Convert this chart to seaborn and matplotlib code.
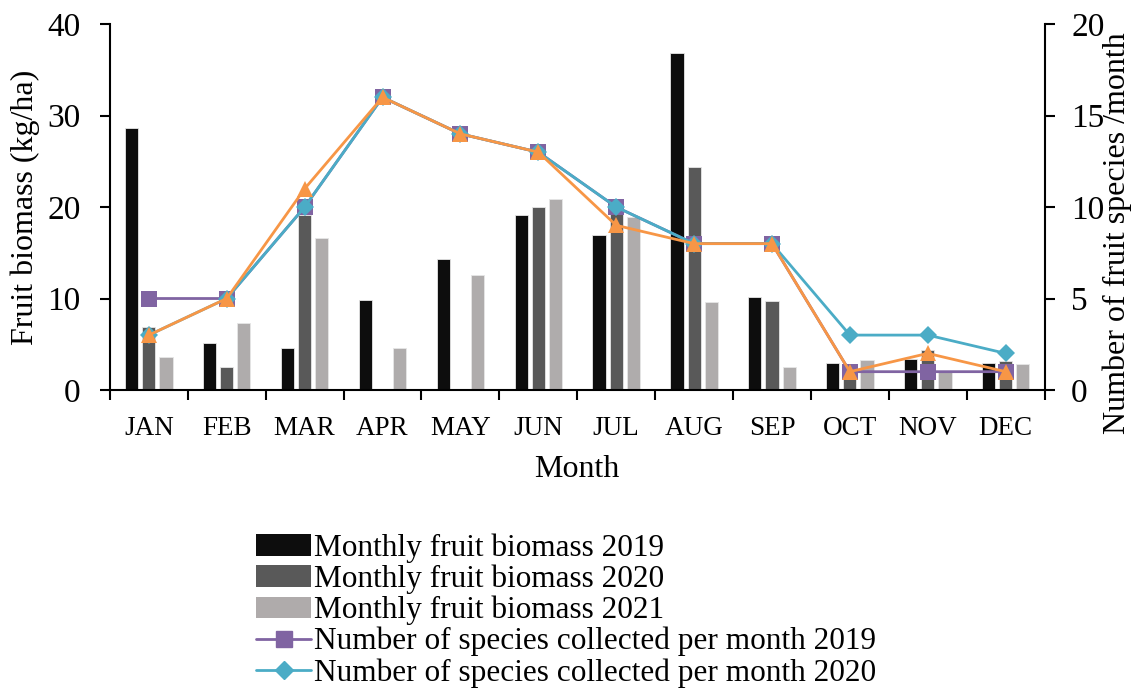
import numpy as np
import pandas as pd
import matplotlib
matplotlib.use("Agg")
import matplotlib.pyplot as plt
from matplotlib.patches import Patch
from matplotlib.lines import Line2D
import seaborn as sns

sns.set_theme(style="white")
plt.rcParams['font.family'] = ['Liberation Serif', 'DejaVu Serif']
plt.rcParams['text.color'] = 'black'
plt.rcParams['axes.labelcolor'] = 'black'
plt.rcParams['xtick.color'] = 'black'
plt.rcParams['ytick.color'] = 'black'

months = ["JAN", "FEB", "MAR", "APR", "MAY", "JUN", "JUL", "AUG", "SEP", "OCT", "NOV", "DEC"]

biomass_2019 = [28.6, 5.1, 4.6, 9.8, 14.3, 19.1, 16.9, 36.8, 10.2, 2.9, 3.4, 2.9]
biomass_2020 = [6.9, 2.5, 19.1, 0.0, 0.0, 20.0, 19.8, 24.4, 9.7, 2.2, 4.4, 3.2]
biomass_2021 = [3.6, 7.3, 16.6, 4.6, 12.6, 20.9, 18.9, 9.6, 2.5, 3.3, 2.0, 2.8]

species_2019 = [5, 5, 10, 16, 14, 13, 10, 8, 8, 1, 1, 1]
species_2020 = [3, 5, 10, 16, 14, 13, 10, 8, 8, 3, 3, 2]
species_2021 = [3, 5, 11, 16, 14, 13, 9, 8, 8, 1, 2, 1]

bar_labels = ["Monthly fruit biomass 2019", "Monthly fruit biomass 2020", "Monthly fruit biomass 2021"]
bar_colors = ["#0d0d0d", "#595959", "#afabab"]
line_colors = ["#8064a2", "#4bacc6", "#f79646"]

df = pd.DataFrame({
    "month": months * 3,
    "biomass": biomass_2019 + biomass_2020 + biomass_2021,
    "series": [bar_labels[0]] * 12 + [bar_labels[1]] * 12 + [bar_labels[2]] * 12,
})

fig = plt.figure(figsize=(11.33, 6.89), dpi=100)
ax = fig.add_axes([0.097, 0.434, 0.825, 0.531])

sns.barplot(data=df, x="month", y="biomass", hue="series", order=months,
            hue_order=bar_labels, palette=bar_colors, width=0.66, gap=0.23,
            edgecolor="#e6e6e6", linewidth=0.6, legend=False, ax=ax)

ax.set_xlim(-0.5, 11.5)
ax.set_ylim(0, 40)
ax.set_yticks([0, 10, 20, 30, 40])
ax.tick_params(axis="y", labelsize=24, direction="out", length=7, width=1.5, left=True, pad=14)
ax.set_xticks(np.arange(-0.5, 12, 1))
ax.set_xticklabels([])
ax.set_xticks(np.arange(12), minor=True)
ax.set_xticklabels(months, minor=True, fontsize=19.5)
ax.tick_params(axis="x", which="major", direction="out", length=7, width=1.5, bottom=True)
ax.tick_params(axis="x", which="minor", length=0, pad=19)
ax.set_xlabel("Month", fontsize=23, labelpad=10)
ax.set_ylabel("Fruit biomass (kg/ha)", fontsize=23)
ax.yaxis.set_label_coords(-0.075, 0.5)
for s in ["left", "bottom"]:
    ax.spines[s].set_color("black")
    ax.spines[s].set_linewidth(1.5)
ax.spines["top"].set_visible(False)
ax.spines["right"].set_visible(False)

ax2 = ax.twinx()
pos = np.arange(12)
sns.lineplot(x=pos, y=species_2019, color=line_colors[0], marker="s", markersize=11,
             markeredgewidth=0, linewidth=2, ax=ax2)
sns.lineplot(x=pos, y=species_2020, color=line_colors[1], marker="D", markersize=9,
             markeredgewidth=0, linewidth=2, ax=ax2)
sns.lineplot(x=pos, y=species_2021, color=line_colors[2], marker="^", markersize=12,
             markeredgewidth=0, linewidth=2, ax=ax2)
ax2.set_ylim(0, 20)
ax2.set_xlim(-0.5, 11.5)
ax2.set_yticks([0, 5, 10, 15, 20])
ax2.tick_params(axis="y", labelsize=24, direction="out", length=7, width=1.5, right=True, pad=12)
ax2.set_ylabel("Number of fruit species /month", fontsize=23)
ax2.yaxis.set_label_coords(1.062, 0.43)
ax2.spines["right"].set_color("black")
ax2.spines["right"].set_linewidth(1.5)
for s in ["left", "top", "bottom"]:
    ax2.spines[s].set_visible(False)

handles = [Patch(facecolor=c, edgecolor="none") for c in bar_colors]
handles.append(Line2D([0], [0], color=line_colors[0], marker="s", markersize=11, linewidth=2))
handles.append(Line2D([0], [0], color=line_colors[1], marker="D", markersize=9, linewidth=2))
labels = bar_labels + ["Number of species collected per month 2019",
                       "Number of species collected per month 2020"]
fig.legend(handles, labels, loc="upper left", bbox_to_anchor=(0.2125, 0.248),
           frameon=False, fontsize=22.5, handlelength=1.75, handletextpad=0.1,
           labelspacing=0.05, borderpad=0, handleheight=0.7)

fig.savefig("out.png", dpi=100)
